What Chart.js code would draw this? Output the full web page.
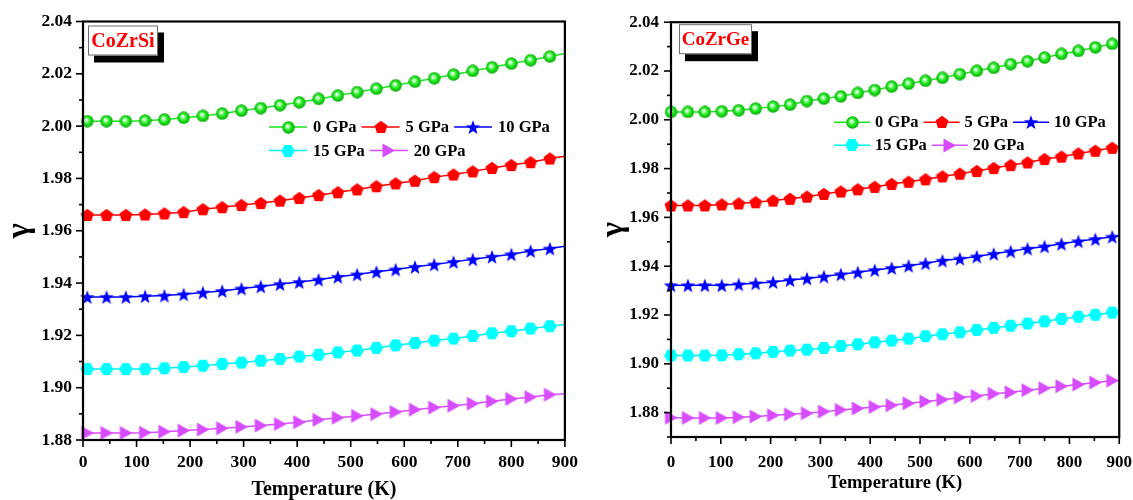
<!DOCTYPE html>
<html>
<head>
<meta charset="utf-8">
<title>Grüneisen parameter of CoZrSi and CoZrGe</title>
<script src="https://cdn.jsdelivr.net/npm/chart.js@4.4.1/dist/chart.umd.min.js"></script>
<style>
  html, body { margin: 0; padding: 0; background: #fff; }
  #wrap { position: relative; width: 1133px; height: 500px; overflow: hidden; }
  .panel { position: absolute; top: 0; height: 500px; }
</style>
</head>
<body>
<div id="wrap">
  <div class="panel" style="left:0;width:590px"><canvas id="chartSi"></canvas></div>
  <div class="panel" style="left:580px;width:567px"><canvas id="chartGe"></canvas></div>
</div>
<script>
// ---------- data ----------
const pressureLabels = ['0 GPa', '5 GPa', '10 GPa', '15 GPa', '20 GPa'];

// CoZrSi: temperatures (K) of the plotted symbols
const temperatureSi = [8, 44, 80, 116, 152, 188, 224, 260, 296, 332, 368, 404, 440,
  476, 512, 548, 584, 620, 656, 692, 728, 764, 800, 836, 872];
const gammaSi0 = [2.0019, 2.0019, 2.0019, 2.0021, 2.0025, 2.0032, 2.0039, 2.0048, 2.0059, 2.0069,
  2.0080, 2.0091, 2.0104, 2.0117, 2.0130, 2.0143, 2.0156, 2.0170, 2.0183, 2.0197, 2.0211, 2.0225,
  2.0239, 2.0252, 2.0266];
const gammaSi5 = [1.9660, 1.9660, 1.9660, 1.9662, 1.9666, 1.9671, 1.9682, 1.9690, 1.9698, 1.9706,
  1.9715, 1.9725, 1.9736, 1.9747, 1.9758, 1.9770, 1.9781, 1.9791, 1.9805, 1.9815, 1.9827, 1.9840,
  1.9851, 1.9862, 1.9876];
const gammaSi10 = [1.9347, 1.9347, 1.9347, 1.9350, 1.9352, 1.9357, 1.9364, 1.9370, 1.9379, 1.9387,
  1.9396, 1.9404, 1.9413, 1.9424, 1.9433, 1.9443, 1.9452, 1.9462, 1.9471, 1.9481, 1.9491, 1.9501,
  1.9510, 1.9523, 1.9532];
const gammaSi15 = [1.9071, 1.9071, 1.9071, 1.9071, 1.9074, 1.9079, 1.9084, 1.9091, 1.9096, 1.9103,
  1.9110, 1.9119, 1.9126, 1.9135, 1.9142, 1.9152, 1.9162, 1.9171, 1.9180, 1.9188, 1.9198, 1.9208,
  1.9216, 1.9226, 1.9235];
const gammaSi20 = [1.8827, 1.8827, 1.8827, 1.8828, 1.8832, 1.8836, 1.8840, 1.8845, 1.8850, 1.8855,
  1.8861, 1.8868, 1.8877, 1.8885, 1.8892, 1.8899, 1.8907, 1.8916, 1.8924, 1.8931, 1.8939, 1.8948,
  1.8957, 1.8964, 1.8973];
// curve values at 0 K and 900 K (line only, no symbol)
const gammaSiAt0K = [2.0019, 1.9660, 1.9347, 1.9071, 1.8827];
const gammaSiAt900K = [2.0278, 1.9885, 1.9541, 1.9242, 1.8977];

// CoZrGe: temperatures (K) of the plotted symbols
const temperatureGe = [0, 34, 68, 102, 136, 170, 205, 239, 273, 307, 341, 375, 409, 443, 477,
  511, 545, 580, 614, 648, 682, 716, 750, 784, 818, 852, 886];
const gammaGe0 = [2.0032, 2.0032, 2.0032, 2.0035, 2.0039, 2.0046, 2.0054, 2.0062, 2.0077, 2.0087,
  2.0096, 2.0110, 2.0122, 2.0136, 2.0148, 2.0160, 2.0172, 2.0187, 2.0201, 2.0213, 2.0228, 2.0240,
  2.0255, 2.0270, 2.0282, 2.0297, 2.0311];
const gammaGe5 = [1.9649, 1.9649, 1.9649, 1.9653, 1.9657, 1.9662, 1.9669, 1.9676, 1.9685, 1.9696,
  1.9706, 1.9715, 1.9725, 1.9737, 1.9746, 1.9756, 1.9768, 1.9779, 1.9790, 1.9802, 1.9814, 1.9825,
  1.9839, 1.9849, 1.9862, 1.9873, 1.9885];
const gammaGe10 = [1.9322, 1.9322, 1.9322, 1.9322, 1.9326, 1.9330, 1.9335, 1.9343, 1.9350, 1.9358,
  1.9367, 1.9375, 1.9384, 1.9393, 1.9402, 1.9412, 1.9423, 1.9431, 1.9440, 1.9451, 1.9461, 1.9472,
  1.9481, 1.9492, 1.9502, 1.9511, 1.9521];
const gammaGe15 = [1.9034, 1.9034, 1.9034, 1.9035, 1.9039, 1.9043, 1.9049, 1.9054, 1.9058, 1.9065,
  1.9073, 1.9080, 1.9088, 1.9095, 1.9103, 1.9113, 1.9121, 1.9129, 1.9139, 1.9147, 1.9156, 1.9165,
  1.9174, 1.9184, 1.9193, 1.9201, 1.9210];
const gammaGe20 = [1.8779, 1.8778, 1.8778, 1.8778, 1.8781, 1.8784, 1.8789, 1.8793, 1.8797, 1.8804,
  1.8811, 1.8817, 1.8823, 1.8830, 1.8838, 1.8845, 1.8853, 1.8862, 1.8868, 1.8877, 1.8883, 1.8892,
  1.8900, 1.8908, 1.8915, 1.8923, 1.8931];
const gammaGeAt900K = [2.0314, 1.9887, 1.9524, 1.9212, 1.8933];

// axis ticks
const tempMajorTicks = [0, 100, 200, 300, 400, 500, 600, 700, 800, 900];
const tempMinorTicks = [50, 150, 250, 350, 450, 550, 650, 750, 850];
const gammaMajorTicks = [1.88, 1.90, 1.92, 1.94, 1.96, 1.98, 2.00, 2.02, 2.04];
const gammaMinorTicks = [1.89, 1.91, 1.93, 1.95, 1.97, 1.99, 2.01, 2.03];
const gammaMinorTicksGe = [1.87, 1.89, 1.91, 1.93, 1.95, 1.97, 1.99, 2.01, 2.03];

// ---------- styling ----------
const SERIF = "'Liberation Serif', 'Times New Roman', serif";
const lineColors = ['#19e619', '#ff0000', '#0000ff', '#00f0f0', '#d84cff'];

function makeSymbol(size, draw) {
  const c = document.createElement('canvas');
  c.width = size; c.height = size;
  draw(c.getContext('2d'), size / 2);
  return c;
}
function polygonPath(g, cx, cy, r, n, start) {
  g.beginPath();
  for (let k = 0; k < n; k++) {
    const a = start + k * 2 * Math.PI / n;
    const px = cx + r * Math.cos(a), py = cy + r * Math.sin(a);
    if (k === 0) g.moveTo(px, py); else g.lineTo(px, py);
  }
  g.closePath();
}
function makeSymbols() {
  return [
    // shaded green ball
    makeSymbol(13, (g, r) => {
      const grad = g.createRadialGradient(r - 1.2, r - 1.4, 0.4, r, r, r);
      grad.addColorStop(0, '#ffffff');
      grad.addColorStop(0.2, '#a8ffa8');
      grad.addColorStop(0.45, '#2cf02c');
      grad.addColorStop(1, '#00a500');
      g.fillStyle = grad;
      g.beginPath(); g.arc(r, r, r - 0.3, 0, 2 * Math.PI); g.fill();
    }),
    // red pentagon
    makeSymbol(14, (g, r) => {
      g.fillStyle = '#ff0000';
      polygonPath(g, r, r + 0.6, 6.8, 5, -Math.PI / 2); g.fill();
    }),
    // blue star
    makeSymbol(16, (g, r) => {
      g.fillStyle = '#0000ff';
      g.beginPath();
      for (let k = 0; k < 10; k++) {
        const a = -Math.PI / 2 + k * Math.PI / 5;
        const rr = k % 2 === 0 ? 7.6 : 3.1;
        const px = r + rr * Math.cos(a), py = r + 0.8 + rr * Math.sin(a);
        if (k === 0) g.moveTo(px, py); else g.lineTo(px, py);
      }
      g.closePath(); g.fill();
    }),
    // cyan hexagon
    makeSymbol(14, (g, r) => {
      g.fillStyle = '#00ffff';
      polygonPath(g, r, r, 6.8, 6, 0); g.fill();
    }),
    // magenta right-pointing triangle
    makeSymbol(15, (g, r) => {
      g.fillStyle = '#d84cff';
      g.beginPath(); g.moveTo(1.5, 0.5); g.lineTo(14, 7.5); g.lineTo(1.5, 14.5); g.closePath(); g.fill();
    })
  ];
}

function buildDatasets(temps, series, at0K, at900K) {
  const symbols = makeSymbols();
  return series.map((vals, s) => {
    const pts = temps.map((t, i) => ({ x: t, y: vals[i], sym: true }));
    if (at0K) pts.unshift({ x: 0, y: at0K[s], sym: false });
    pts.push({ x: 900, y: at900K[s], sym: false });
    return {
      label: pressureLabels[s],
      data: pts,
      borderColor: lineColors[s],
      backgroundColor: lineColors[s],
      borderWidth: 1.5,
      tension: 0,
      pointStyle: symbols[s],
      pointRadius: c => (c.raw && c.raw.sym ? 6 : 0),
      clip: 10
    };
  });
}

// frame around the plot plus outward major/minor ticks
const frameTicks = {
  id: 'frameTicks',
  afterDatasetsDraw(chart, args, o) {
    const { ctx, chartArea: a, scales: { x, y } } = chart;
    ctx.save();
    ctx.strokeStyle = '#000';
    ctx.lineWidth = 1.6;
    const seg = (x1, y1, x2, y2) => { ctx.beginPath(); ctx.moveTo(x1, y1); ctx.lineTo(x2, y2); ctx.stroke(); };
    o.xMajor.forEach(v => { const p = x.getPixelForValue(v); seg(p, a.bottom, p, a.bottom + 7); });
    o.xMinor.forEach(v => { const p = x.getPixelForValue(v); seg(p, a.bottom, p, a.bottom + 4); });
    o.yMajor.forEach(v => { const p = y.getPixelForValue(v); seg(a.left - 7, p, a.left, p); });
    o.yMinor.forEach(v => { const p = y.getPixelForValue(v); seg(a.left - 4, p, a.left, p); });
    ctx.lineWidth = 2.2;
    ctx.strokeRect(a.left, a.top, a.right - a.left, a.bottom - a.top);
    ctx.restore();
  }
};

// legend drawn inside the plot area
const innerLegend = {
  id: 'innerLegend',
  afterDatasetsDraw(chart, args, o) {
    const { ctx, chartArea: a } = chart;
    ctx.save();
    ctx.font = `bold ${o.fontSize}px ${SERIF}`;
    ctx.textBaseline = 'middle';
    ctx.textAlign = 'left';
    o.rows.forEach((row, ri) => {
      let x = a.left + o.dx;
      const y = a.top + o.dy + ri * o.rowGap;
      row.forEach(idx => {
        const ds = chart.data.datasets[idx];
        ctx.strokeStyle = ds.borderColor;
        ctx.lineWidth = ds.borderWidth;
        ctx.beginPath(); ctx.moveTo(x, y); ctx.lineTo(x + o.lineLen, y); ctx.stroke();
        const img = ds.pointStyle;
        ctx.drawImage(img, Math.round(x + o.lineLen / 2 - img.width / 2), Math.round(y - img.height / 2));
        x += o.lineLen + o.textGap;
        ctx.fillStyle = '#000';
        ctx.fillText(ds.label, x, y + 1);
        x += ctx.measureText(ds.label).width + o.itemGap;
      });
    });
    ctx.restore();
  }
};

// compound name tag with drop shadow
const nameTag = {
  id: 'nameTag',
  afterDraw(chart, args, o) {
    const { ctx, chartArea: a } = chart;
    const x = a.left + o.dx, y = a.top + o.dy;
    ctx.save();
    ctx.fillStyle = '#000';
    ctx.fillRect(x + 6, y + 7, o.w, o.h);
    ctx.fillStyle = '#fff';
    ctx.fillRect(x, y, o.w, o.h);
    ctx.strokeStyle = '#6e6e6e';
    ctx.lineWidth = 1;
    ctx.strokeRect(x + 0.5, y + 0.5, o.w - 1, o.h - 1);
    ctx.fillStyle = '#ff0000';
    ctx.font = `bold ${o.fontSize}px ${SERIF}`;
    ctx.textAlign = 'center';
    ctx.textBaseline = 'middle';
    ctx.fillText(o.text, x + o.w / 2, y + o.h / 2 + 1);
    ctx.restore();
  }
};

function makeChart(id, cfg) {
  return new Chart(document.getElementById(id), {
    type: 'line',
    data: { datasets: cfg.datasets },
    options: {
      responsive: true,
      maintainAspectRatio: false,
      animation: false,
      events: [],
      layout: { padding: cfg.padding },
      scales: {
        x: {
          type: 'linear', min: 0, max: 900,
          afterBuildTicks: s => { s.ticks = tempMajorTicks.map(v => ({ value: v })); },
          afterFit: s => { s.height = cfg.xHeight; },
          grid: { display: false, drawTicks: false },
          border: { display: false },
          ticks: {
            autoSkip: false, maxRotation: 0, color: '#000', padding: cfg.xTickPad,
            font: { family: SERIF, weight: 'bold', size: cfg.tickSize },
            callback: v => String(v)
          },
          title: {
            display: true, text: 'Temperature (K)', color: '#000',
            font: { family: SERIF, weight: 'bold', size: cfg.xTitleSize, lineHeight: 1 },
            padding: { top: 0, bottom: cfg.xTitlePad }
          }
        },
        y: {
          type: 'linear', min: cfg.yMin, max: 2.04,
          afterBuildTicks: s => { s.ticks = gammaMajorTicks.map(v => ({ value: v })); },
          afterFit: s => { s.width = cfg.yWidth; },
          grid: { display: false, drawTicks: false },
          border: { display: false },
          ticks: {
            autoSkip: false, color: '#000', padding: cfg.yTickPad,
            font: { family: SERIF, weight: 'bold', size: cfg.tickSize },
            callback: v => v.toFixed(2)
          },
          title: {
            display: true, text: 'γ', color: '#000',
            font: { family: SERIF, weight: 'bold', size: 32, lineHeight: 1 },
            padding: { top: cfg.yTitlePad, bottom: 0 }
          }
        }
      },
      plugins: {
        legend: { display: false },
        tooltip: { enabled: false },
        frameTicks: { xMajor: tempMajorTicks, xMinor: tempMinorTicks, yMajor: gammaMajorTicks, yMinor: cfg.yMinor },
        innerLegend: cfg.legend,
        nameTag: cfg.tag
      }
    },
    plugins: [frameTicks, innerLegend, nameTag]
  });
}

makeChart('chartSi', {
  datasets: buildDatasets(temperatureSi, [gammaSi0, gammaSi5, gammaSi10, gammaSi15, gammaSi20], gammaSiAt0K, gammaSiAt900K),
  padding: { left: 0, right: 15, top: 20, bottom: 0 },
  xHeight: 60, yWidth: 83, yMin: 1.88, yMinor: gammaMinorTicks,
  tickSize: 17.5, xTickPad: 12, yTickPad: 11, xTitleSize: 20, xTitlePad: 0, yTitlePad: 4,
  legend: { rows: [[0, 1, 2], [3, 4]], dx: 186, dy: 105.5, rowGap: 23.5, lineLen: 38, textGap: 6, itemGap: 5, fontSize: 16.5 },
  tag: { text: 'CoZrSi', dx: 5, dy: 4, w: 70, h: 30, fontSize: 20 }
});

makeChart('chartGe', {
  datasets: buildDatasets(temperatureGe, [gammaGe0, gammaGe5, gammaGe10, gammaGe15, gammaGe20], null, gammaGeAt900K),
  padding: { left: 0, right: 14, top: 21, bottom: 0 },
  xHeight: 63, yWidth: 91, yMin: 1.87, yMinor: gammaMinorTicksGe,
  tickSize: 17, xTickPad: 15, yTickPad: 12, xTitleSize: 18.5, xTitlePad: 8, yTitlePad: 18,
  legend: { rows: [[0, 1, 2], [3, 4]], dx: 163, dy: 100, rowGap: 23, lineLen: 36, textGap: 5, itemGap: 5, fontSize: 16.5 },
  tag: { text: 'CoZrGe', dx: 8, dy: 2, w: 73, h: 30, fontSize: 19 }
});
</script>
</body>
</html>
